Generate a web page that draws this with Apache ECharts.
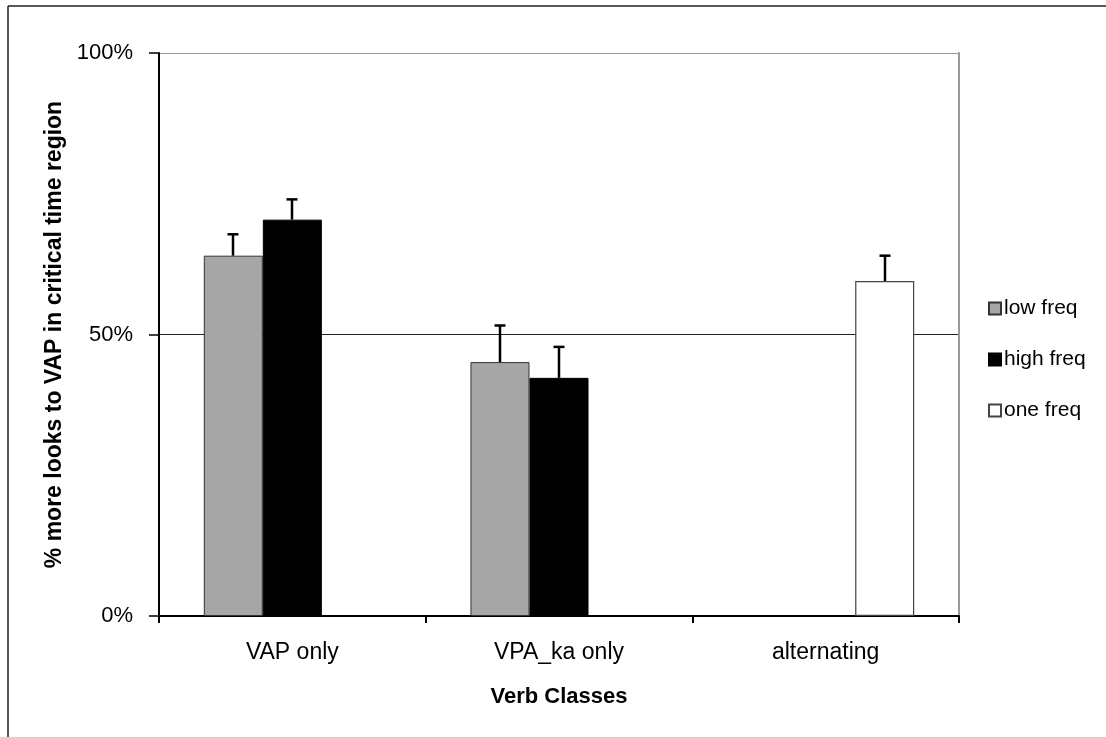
<!DOCTYPE html>
<html>
<head>
<meta charset="utf-8">
<script src="https://cdn.jsdelivr.net/npm/echarts@6/dist/echarts.min.js"></script>
<style>
html,body{margin:0;padding:0;background:#fff;}
#chart{width:1106px;height:737px;}
</style>
</head>
<body>
<div id="chart"></div>
<script>
const categories = ['VAP only', 'VPA_ka only', 'alternating'];
const seriesNames = ['low freq', 'high freq', 'one freq'];
const lowFreq = [64.0, 45.1, null];
const highFreq = [70.4, 42.3, null];
const oneFreq = [null, null, 59.5];
const lowErr = [3.8, 6.5, null];
const highErr = [3.6, 5.5, null];
const oneErr = [null, null, 4.5];
const yTicks = [0, 50, 100];

const values = [lowFreq, highFreq, oneFreq];
const errs = [lowErr, highErr, oneErr];
const CAT_GAP = 0.336;

const errData = [];
values.forEach((arr, s) => {
  arr.forEach((v, i) => {
    if (v != null && errs[s][i] != null) errData.push([i, v, errs[s][i], s]);
  });
});

const FONT = "'Liberation Sans', Arial, sans-serif";
const chart = echarts.init(document.getElementById('chart'), null, {renderer: 'canvas'});

const barStyles = [
  {color: '#a6a6a6', borderColor: '#333', borderWidth: 1},
  {color: '#000000', borderColor: '#000', borderWidth: 1},
  {color: '#ffffff', borderColor: '#444', borderWidth: 1.2}
];

const option = {
  animation: false,
  backgroundColor: '#fff',
  textStyle: {fontFamily: FONT, color: '#000'},
  grid: {left: 159, right: 147, top: 53, bottom: 121},
  legend: {
    orient: 'vertical',
    left: 983,
    top: 293,
    itemWidth: 12,
    itemHeight: 12,
    itemGap: 30,
    icon: 'rect',
    data: seriesNames,
    textStyle: {fontFamily: FONT, fontSize: 21, color: '#000', lineHeight: 21, padding: [0,0,0,-2]}
  },
  xAxis: {
    type: 'category',
    data: categories,
    name: 'Verb Classes',
    nameLocation: 'middle',
    nameGap: 70,
    nameTextStyle: {fontFamily: FONT, fontSize: 22, fontWeight: 'bold', color: '#000'},
    axisLine: {lineStyle: {color: '#000', width: 2}},
    axisTick: {show: true, length: 7, lineStyle: {color: '#000', width: 2}},
    axisLabel: {fontFamily: FONT, fontSize: 23, color: '#000', margin: 25}
  },
  yAxis: [{
    type: 'value',
    min: 0, max: 100, interval: 50,
    name: '% more looks to VAP in critical time region',
    nameLocation: 'middle',
    nameGap: 89,
    nameTextStyle: {fontFamily: FONT, fontSize: 23, fontWeight: 'bold', color: '#000'},
    axisLine: {show: true, lineStyle: {color: '#000', width: 2}},
    axisTick: {show: true, length: 10, lineStyle: {color: '#000', width: 1.5}},
    axisLabel: {fontFamily: FONT, fontSize: 22, color: '#000', margin: 26,
      formatter: v => yTicks.includes(v) ? v + '%' : ''},
    splitLine: {show: true, lineStyle: {color: ['transparent', '#222', '#9a9a9a'], width: [1]}}
  }, {
    type: 'value',
    min: 0, max: 100, interval: 50,
    position: 'right',
    axisLine: {show: true, lineStyle: {color: '#9a9a9a', width: 2}},
    axisTick: {show: false},
    axisLabel: {show: false},
    splitLine: {show: false}
  }],
  series: [
    ...values.map((arr, s) => ({
      name: seriesNames[s],
      type: 'bar',
      data: arr,
      barGap: '0%',
      barCategoryGap: (CAT_GAP * 100) + '%',
      itemStyle: barStyles[s],
      z: 2
    })),
    {
      type: 'custom',
      data: errData,
      encode: {x: 0, y: 1},
      z: 5,
      silent: true,
      renderItem: function (params, api) {
        const cat = api.value(0), v = api.value(1), e = api.value(2), s = api.value(3);
        const band = api.size([1, 0])[0];
        const bw = band * (1 - CAT_GAP) / 3;
        const base = api.coord([cat, v]);
        const top = api.coord([cat, v + e]);
        const x = Math.round(base[0] + (s - 1) * bw);
        return {
          type: 'group',
          children: [
            {type: 'line', shape: {x1: x, y1: base[1], x2: x, y2: top[1]}, style: {stroke: '#000', lineWidth: 2.5}},
            {type: 'line', shape: {x1: x - 5.5, y1: top[1], x2: x + 5.5, y2: top[1]}, style: {stroke: '#000', lineWidth: 2.5}}
          ]
        };
      }
    }
  ],
  graphic: [
    {type: 'line', shape: {x1: 8, y1: 6, x2: 8, y2: 737}, style: {stroke: '#222', lineWidth: 1.5}},
    {type: 'line', shape: {x1: 8, y1: 6, x2: 1106, y2: 6}, style: {stroke: '#222', lineWidth: 1.5}}
  ]
};
chart.setOption(option);
</script>
</body>
</html>
